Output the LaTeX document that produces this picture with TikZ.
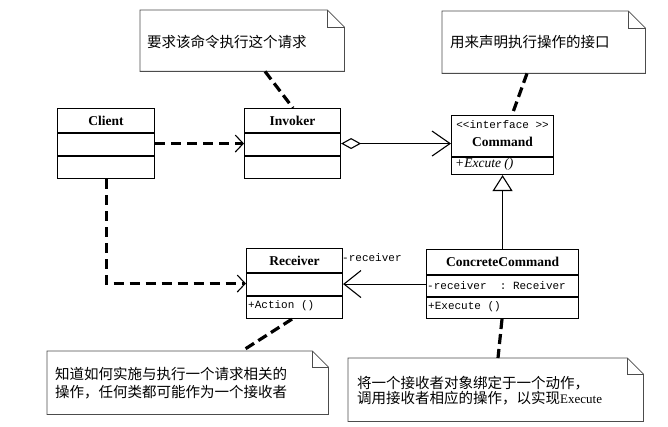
\documentclass[tikz,border=0pt]{standalone}
\usepackage{fontspec}
\setmainfont{Liberation Serif}
\setmonofont{Liberation Mono}
\newfontfamily\cjk{Noto Sans CJK SC}
\usetikzlibrary{arrows.meta,calc}
\begin{document}
\begin{tikzpicture}[x=1pt,y=-1pt,
  umlbox/.style={draw,line width=1.1pt,inner sep=0pt,anchor=north west},
  notebg/.style={inner sep=0pt,anchor=north west},
  noteline/.style={draw=black!70,line width=0.8pt},
  sepline/.style={line width=1.1pt},
  title/.style={font=\fontsize{13.5}{15}\selectfont\bfseries,inner sep=0pt},
  member/.style={font=\fontsize{11}{12}\selectfont\ttfamily,inner sep=0pt,anchor=west},
  notetext/.style={font=\fontsize{14.5}{18.5}\selectfont\cjk,inner sep=0pt,anchor=west,align=left},
  dep/.style={line width=3pt,dash pattern=on 10pt off 6pt,
    -{Straight Barb[length=8pt,width=17pt,line width=1.1pt]}},
  notelink/.style={line width=3.2pt,dash pattern=on 10pt off 5pt},
]
\useasboundingbox (0,0) rectangle (668,427);

% ---------- class boxes ----------
\node[umlbox,minimum width=97pt,minimum height=70pt] (client) at (57,108) {};
\draw[sepline] ($(client.north west)+(0,25)$) -- ($(client.north east)+(0,25)$);
\draw[sepline] ($(client.north west)+(0,48)$) -- ($(client.north east)+(0,48)$);
\node[title] (clientT) at ($(client.north)+(0,12.5)$) {Client};

\node[umlbox,minimum width=96pt,minimum height=70pt] (invoker) at (244,108) {};
\draw[sepline] ($(invoker.north west)+(0,25)$) -- ($(invoker.north east)+(0,25)$);
\draw[sepline] ($(invoker.north west)+(0,48)$) -- ($(invoker.north east)+(0,48)$);
\node[title] (invokerT) at ($(invoker.north)+(0,12.5)$) {Invoker};

\node[umlbox,minimum width=102pt,minimum height=59pt] (command) at (451,115) {};
\draw[sepline] ($(command.north west)+(0,42)$) -- ($(command.north east)+(0,42)$);
\node[member,anchor=center] (commandS) at ($(command.north)+(0,10)$) {<<interface >>};
\node[title] (commandT) at ($(command.north)+(0,27)$) {Command};
\node[member,font=\fontsize{13.5}{14}\selectfont\itshape] (commandM) at ($(command.north west)+(4,49)$) {+Excute ()};

\node[umlbox,minimum width=96pt,minimum height=70pt] (receiver) at (246,248) {};
\draw[sepline] ($(receiver.north west)+(0,25)$) -- ($(receiver.north east)+(0,25)$);
\draw[sepline] ($(receiver.north west)+(0,48)$) -- ($(receiver.north east)+(0,48)$);
\node[title] (receiverT) at ($(receiver.north)+(0,12.5)$) {Receiver};
\node[member] (receiverM) at ($(receiver.north west)+(2,58)$) {+Action ()};

\node[umlbox,minimum width=152pt,minimum height=69pt] (concrete) at (426,249) {};
\draw[sepline] ($(concrete.north west)+(0,26)$) -- ($(concrete.north east)+(0,26)$);
\draw[sepline] ($(concrete.north west)+(0,48)$) -- ($(concrete.north east)+(0,48)$);
\node[title] (concreteT) at ($(concrete.north)+(0,13)$) {ConcreteCommand};
\node[member] (concreteA) at ($(concrete.north west)+(1,37)$) {-receiver\ \ : Receiver};
\node[member] (concreteM) at ($(concrete.north west)+(2,58)$) {+Execute ()};

% ---------- notes ----------
\node[notebg,minimum width=204pt,minimum height=61pt] (n1) at (140,10) {};
\node[notebg,minimum width=203pt,minimum height=62pt] (n2) at (442,11) {};
\node[notebg,minimum width=281pt,minimum height=63pt] (n3) at (47,351) {};
\node[notebg,minimum width=295pt,minimum height=63pt] (n4) at (348,358) {};
\foreach \n/\f in {n1/17,n2/17,n3/16,n4/16}{
  \draw[noteline,fill=white] (\n.north west) -- ($(\n.north east)+(-\f,0)$) -- ($(\n.north east)+(0,\f)$)
     -- (\n.south east) -- (\n.south west) -- cycle;
  \draw[noteline] ($(\n.north east)+(-\f,0)$) -- ($(\n.north east)+(-\f,\f)$) -- ($(\n.north east)+(0,\f)$);
}
\node[notetext] (t1) at (147,42) {要求该命令执行这个请求};
\node[notetext] (t2) at (450,42) {用来声明执行操作的接口};
\node[notetext] (t3) at (55,383) {知道如何实施与执行一个请求相关的\\操作，任何类都可能作为一个接收者};
\node[notetext,font=\fontsize{14.5}{15.5}\selectfont\cjk] (t4) at (357,390.5) {将一个接收者对象绑定于一个动作，\\调用接收者相应的操作，以实现{\rmfamily\fontsize{13}{14}\selectfont Execute}};

% ---------- connectors ----------
\draw[dep] (client.east) -- (invoker.west);
\draw[dep] (client.south) |- (receiver.west);
\draw[line width=1.1pt,{Diamond[open,length=20pt,width=11pt,line width=1.1pt]}-{Straight Barb[length=18pt,width=25pt,line width=1.1pt]}]
  (invoker.east) -- (invoker.east -| command.west);
\draw[line width=1.1pt,{Triangle[open,length=16pt,width=20pt,line width=1.1pt]}-] (command.south) -- (concrete.north);
\draw[line width=1.1pt,-{Straight Barb[length=17pt,width=27pt,line width=1.1pt]}] (concrete.west) -- (concrete.west -| receiver.east);
\node[member] (assocL) at (342,258) {-receiver};

\draw[notelink] ($(n1.south west)+(125,0)$) -- ($(invoker.north west)+(49,0)$);
\draw[notelink] ($(n2.south west)+(85,0)$) -- ($(command.north west)+(61,0)$);
\draw[notelink] ($(receiver.south west)+(46,0)$) -- ($(n3.north west)+(195,0)$);
\draw[notelink] ($(concrete.south west)+(76,0)$) -- ($(n4.north west)+(150,0)$);
\end{tikzpicture}
\end{document}
